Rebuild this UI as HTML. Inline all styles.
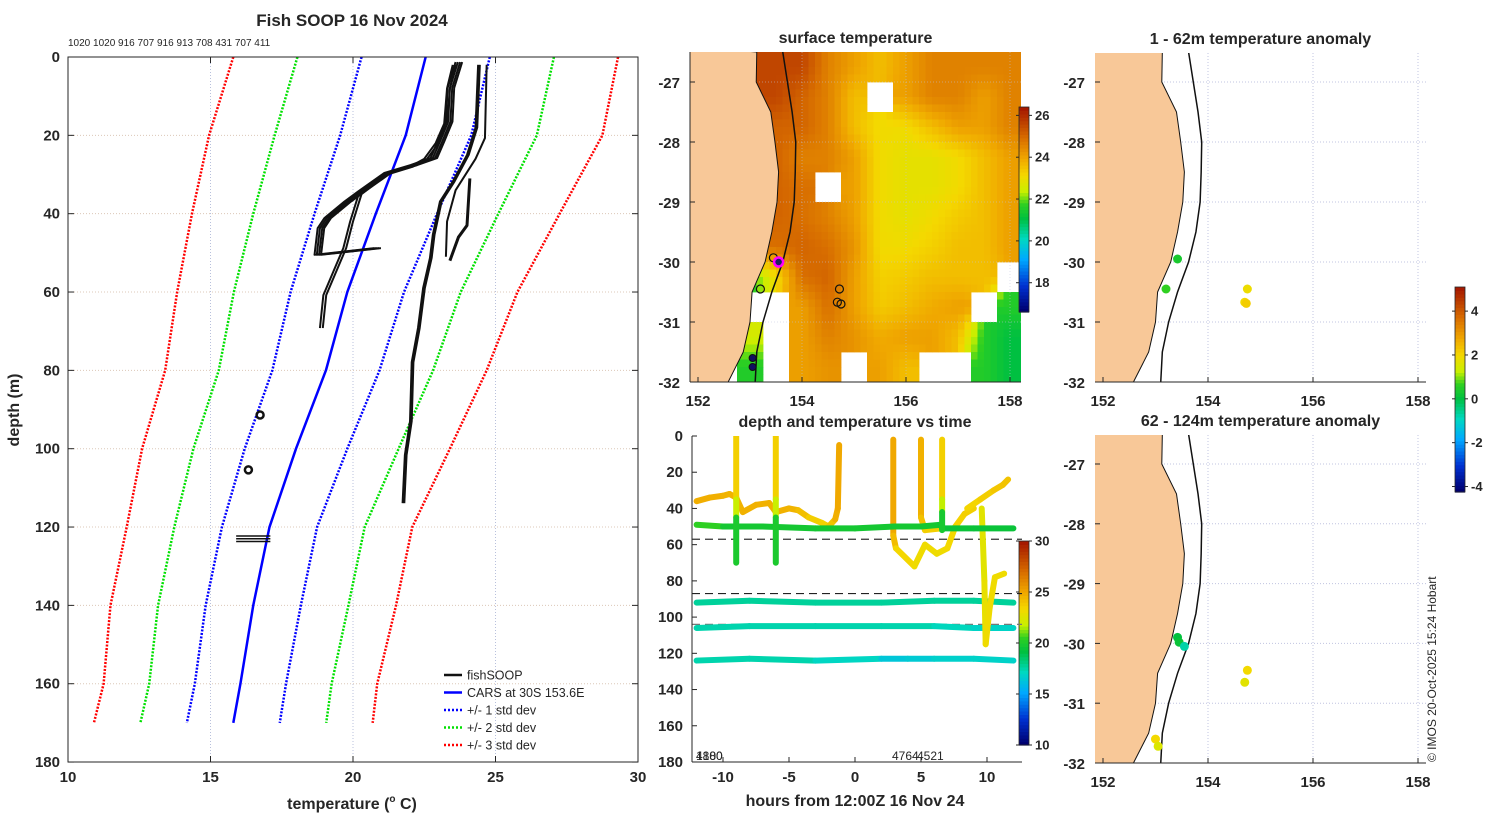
<!DOCTYPE html>
<html><head><meta charset="utf-8"><style>
body{margin:0;background:#fff;}
svg text{font-family:"Liberation Sans",sans-serif;fill:#262626;}
.b{font-weight:bold;}
</style></head><body>
<svg id="s" width="1500" height="820" viewBox="0 0 1500 820" xmlns="http://www.w3.org/2000/svg">
<rect width="1500" height="820" fill="#fff"/>
</svg>
<script>
// ---- Profile chart data ----
const depths=[0,20,40,60,80,100,120,140,160,170];
const carsMean=[22.55,21.85,20.8,19.8,19.05,18.0,17.07,16.5,16.05,15.8];
const carsStd=[2.25,2.3,2.15,1.99,1.88,1.8,1.67,1.67,1.6,1.63];
const topLabels="1020 1020 916 707 916 913 708 431 707 411";
const profBT=[23.68,23.4,23.34,23.05,22.8,22.1,21.18,20.25,19.78,19.08,18.84,18.73,20.83];
const profBD=[1.3,7.9,16.5,21.6,25.8,27.6,29.6,34.4,36.9,41.1,43.7,50.5,48.8];
const profCT=[23.5,23.3,23.2,22.9,22.5,22.0,21.1,20.2,19.9,19.66,19.31,18.96,18.84];
const profCD=[2,8,17,22,26,28,30,35,42,48.8,54.8,60.8,69.2];
const profAT=[24.39,24.3,24.0,23.5,23.05,22.8,22.7,22.46,22.28,22.06,22.0,21.82,21.74];
const profAD=[2,18,25,31.8,36.9,45.4,51.3,59,69.2,77.9,93,101.6,113.9];
const profDT=[24.69,24.63,24.3,23.6,23.3,23.26];
const profDD=[2,20.7,26,34,42,51];
const profET=[24.1,24.0,23.7,23.4];
const profED=[31,43,46,52];
const blobT=[16.74,16.33,15.9,17.1];
const blobD=[91.4,105.4,123,123];

// ---- SST grid (0.5 deg cells) ----
const sstLons=[152,152.5,153,153.5,154,154.5,155,155.5,156,156.5,157,157.5,158];
const sstLats=[-26.75,-27.25,-27.75,-28.25,-28.75,-29.25,-29.75,-30.25,-30.75,-31.25,-31.75];
const N=null;
const sstVals=[
[N,N,25.5,25.5,25.5,24.5,24.0,23.5,24.0,24.5,24.5,24.5,24.5],
[N,N,25.5,25.5,25.0,24.5,23.5,N,24.0,24.5,24.5,24.0,24.5],
[N,N,25.0,25.0,25.0,24.5,23.5,23.0,23.0,23.5,24.0,24.0,24.5],
[N,N,25.0,25.0,24.5,24.5,24.0,23.0,22.8,22.8,23.0,23.5,24.0],
[N,N,25.0,25.0,24.8,N,24.0,23.0,22.8,22.8,23.0,23.5,24.0],
[N,N,25.0,25.0,24.8,24.5,24.0,23.0,22.8,23.0,23.3,23.5,24.0],
[N,N,24.8,24.8,25.0,24.8,24.2,23.0,23.0,23.2,23.5,23.5,24.0],
[N,N,21.5,23.0,24.8,25.0,24.0,23.2,23.3,23.5,23.5,23.5,N],
[N,N,N,N,24.0,24.8,24.0,23.3,23.5,23.8,24.0,N,21.5],
[N,N,22.5,N,24.0,24.5,24.2,23.8,24.0,24.0,23.5,21.5,21.0],
[N,N,21.5,N,24.0,24.2,N,24.0,23.5,N,N,21.5,21.0]];
const coastLat=[-26.5,-27,-27.5,-28,-28.5,-29,-29.5,-30,-30.5,-31,-31.5,-32];
const coastLon=[153.13,153.12,153.4,153.48,153.55,153.52,153.42,153.29,153.04,153.0,152.87,152.58];
const isoLon=[153.63,153.72,153.81,153.88,153.87,153.85,153.77,153.63,153.42,153.25,153.13,153.1];
const castLon=[153.45,153.2,154.72,154.68,154.75];
const castLat=[-29.93,-30.45,-30.45,-30.67,-30.7];
const anom1Lon=[153.42,153.2,154.75,154.7,154.73];
const anom1Lat=[-29.95,-30.45,-30.45,-30.67,-30.69];
const anom1Val=[0.3,0.6,1.8,1.9,2.1];
const anom2Lon=[153.42,153.45,153.55,154.75,154.7,153.0,153.05];
const anom2Lat=[-29.9,-29.98,-30.05,-30.45,-30.65,-31.6,-31.72];
const anom2Val=[0.0,0.1,-0.8,1.9,1.6,1.9,1.5];

// ---- time/depth tracks ----
const trkA_t=[-12,-10,-7,-3,0,3,5,6.5,6.6,9,12]; const trkA_d=[49,50,50,51,51,50,50,49,51,51,51]; const trkA_T=[21,19.6,19.6,19.6,19.6,19.6,19.6,19.6,19.3,19.3,19.3];
const trkB_t=[-12,-8,-3,2,6,9,12]; const trkB_d=[92,91,92,92,91,91,92]; const trkB_T=[17.6,17.6,17.6,17.6,17.6,17.6,17.6];
const trkC_t=[-12,-8,-3,2,6,9,12]; const trkC_d=[106,105,105,105,105,106,106]; const trkC_T=[17.3,17.3,17.3,17.3,17.3,16.8,16.8];
const trkD_t=[-12,-8,-3,2,4,6,9,12]; const trkD_d=[124,123,124,123,123,123,123,124]; const trkD_T=[17.3,17.3,17.3,16.5,16,16.8,16.5,17];
const trkE_t=[-12,-11,-10,-9.5,-9,-8.5,-7.5,-6.5,-6,-5,-4.3,-3.5,-2.5,-2,-1.5,-1.3,-1.2]; const trkE_d=[36,34,33,32,34,42,38,37,42,40,41,45,48,50,46,40,5]; const trkE_T=[24.6,24.6,24.5,24.4,24.4,24.5,24.5,24.5,24.5,24.5,24.3,23.8,23.3,23.5,24.3,24.8,24.8];
const trkF_t=[-9,-9,-9,-9]; const trkF_d=[0,35,45,70]; const trkF_T=[23.6,23.3,20,19.6];
const trkG_t=[-6,-6,-6,-6]; const trkG_d=[0,35,45,70]; const trkG_T=[23.6,23.3,20,19.6];
const trkH_t=[2.9,2.9,3.1,4.5,5.3,6.2,7.0,7.6,8.3,9.0]; const trkH_d=[2,55,62,72,60,65,62,50,43,40]; const trkH_T=[24.8,24.8,23.5,23,23,23,23,23.4,23.4,23.6];
const trkI_t=[5,5,5.3,6.5]; const trkI_d=[2,45,52,51]; const trkI_T=[24.6,24.4,23.5,23.5];
const trkJ_t=[6.6,6.6,6.6,6.6]; const trkJ_d=[2,35,42,52]; const trkJ_T=[23.6,23.3,19.8,19.6];
const trkK_t=[8.5,9.5,10.5,11.2,11.6]; const trkK_d=[40,35,30,27,24]; const trkK_T=[23.3,23.3,23.8,23.8,24];
const trkL_t=[9.6,9.8,9.9,10.2,10.6,11.3]; const trkL_d=[40,80,115,95,78,76]; const trkL_T=[22.5,22.5,23,23,23,23];

const S=document.getElementById('s');
const NS='http://www.w3.org/2000/svg';
function mk(tag,at,parent){const e=document.createElementNS(NS,tag);for(const k in at)e.setAttribute(k,at[k]);(parent||S).appendChild(e);return e;}
function tx(x,y,str,size,anchor,bold,parent){const e=mk('text',{x:x,y:y,'font-size':size,'text-anchor':anchor||'middle'},parent);if(bold)e.setAttribute('class','b');e.textContent=str;return e;}

// colormap
const stops=[[0,[0,0,112]],[0.12,[0,48,208]],[0.25,[0,168,255]],[0.35,[0,216,192]],[0.45,[0,192,64]],[0.52,[48,208,32]],[0.58,[200,240,0]],[0.66,[244,216,0]],[0.74,[240,168,0]],[0.84,[216,110,0]],[1,[160,16,0]]];
function cmap(f){f=Math.max(0,Math.min(1,f));for(let i=1;i<stops.length;i++){if(f<=stops[i][0]){const a=stops[i-1],b=stops[i];const u=(f-a[0])/(b[0]-a[0]);const c=a[1].map((v,j)=>Math.round(v+(b[1][j]-v)*u));return 'rgb('+c.join(',')+')';}}return 'rgb(160,16,0)';}

// ================= PROFILE PLOT =================
const mx=T=>68+(T-10)*28.5, my=d=>57+d*3.917;
const gP=mk('g',{});


[15,20,25].forEach(T=>{const l=mk('line',{x1:mx(T),x2:mx(T),y1:57,y2:762,stroke:'#b8c0dc','stroke-width':1,'stroke-dasharray':'1,2'},gP);});
[20,40,60,80,100,120,140,160].forEach(d=>{const l=mk('line',{x1:68,x2:638,y1:my(d),y2:my(d),stroke:'#dcc8b8','stroke-width':1,'stroke-dasharray':'1,2'},gP);});
function pline(Ts,Ds,color,w,dash,name){const p=mk('polyline',{points:Ts.map((T,i)=>mx(T)+','+my(Ds[i])).join(' '),fill:'none',stroke:color,'stroke-width':w,'stroke-linejoin':'round'},gP);if(dash)p.setAttribute('stroke-dasharray',dash);return p;}
[[3,'#ff0000'],[2,'#00e000'],[1,'#0000ff']].forEach(([k,c])=>{
  pline(carsMean.map((m,i)=>m-k*carsStd[i]),depths,c,2.5,'2,1.5','std-'+k+'-lower');
  pline(carsMean.map((m,i)=>m+k*carsStd[i]),depths,c,2.5,'2,1.5','std-'+k+'-upper');
});
pline(carsMean,depths,'#0000ff',2.5,null,'cars-mean-profile');
[0,0.08,-0.08,0.15].forEach(o=>{pline(profBT.map(v=>v+o),profBD,'#111',2,null,'fishsoop-profile');});
[0,0.1].forEach(o=>{pline(profCT.map(v=>v+o),profCD,'#111',2,null,'fishsoop-profile');});
[0,0.06].forEach(o=>{pline(profAT.map(v=>v+o),profAD,'#111',2,null,'fishsoop-profile');});
pline(profDT,profDD,'#111',2,null,'fishsoop-profile');
pline(profET,profED,'#111',3,null,'fishsoop-profile');
blobT.slice(0,2).forEach((T,i)=>{const c=mk('circle',{cx:mx(T),cy:my(blobD[i]),r:3.5,fill:'none',stroke:'#111','stroke-width':2.5},gP);});
[122.3,123,123.7].forEach(d=>pline([blobT[2],blobT[3]],[d,d],'#111',1.5,null,'fishsoop-bottom-trace'));
const bx=mk('rect',{x:68,y:57,width:570,height:705,fill:'none',stroke:'#262626','stroke-width':1},gP);
const xt=[10,15,20,25,30];xt.forEach(T=>{mk('line',{x1:mx(T),x2:mx(T),y1:762,y2:756,stroke:'#262626'},gP);mk('line',{x1:mx(T),x2:mx(T),y1:57,y2:63,stroke:'#262626'},gP);const t=tx(mx(T),782,String(T),15,'middle',true,gP);});
const yt=[0,20,40,60,80,100,120,140,160,180];yt.forEach(d=>{mk('line',{x1:68,x2:74,y1:my(d),y2:my(d),stroke:'#262626'},gP);mk('line',{x1:638,x2:632,y1:my(d),y2:my(d),stroke:'#262626'},gP);const t=tx(60,my(d)+5,String(d),15,'end',true,gP);});
let t0=tx(352,26,'Fish SOOP 16 Nov 2024',17,'middle',true,gP);
t0=tx(68,46,topLabels,10,'start',false,gP);
t0=mk('text',{x:352,y:809,'font-size':16,'text-anchor':'middle',class:'b'},gP);t0.innerHTML='temperature (<tspan font-size="10" dy="-7">o</tspan><tspan dy="7"> C)</tspan>';
t0=tx(0,0,'depth (m)',16,'middle',true,gP);t0.setAttribute('transform','translate(19,410) rotate(-90)');
const lg=mk('g',{},gP);
[['fishSOOP','#111',null],['CARS at 30S 153.6E','#0000ff',null],['+/- 1 std dev','#0000ff','2,2'],['+/- 2 std dev','#00e000','2,2'],['+/- 3 std dev','#ff0000','2,2']].forEach((e,i)=>{
  const y=675+i*17.5;const g=mk('g',{},lg);
  const l=mk('line',{x1:444,x2:462,y1:y,y2:y,stroke:e[1],'stroke-width':2.5},g);if(e[2])l.setAttribute('stroke-dasharray',e[2]);
  tx(467,y+4.5,e[0],12.5,'start',false,g);
});

// SST bilinear sampling from the grid
function sstAt(lon,lat){
  const fc=(lon-152)/0.5, fr=(-26.75-lat)/0.5;
  const rc=Math.round(fc), rr=Math.round(fr);
  if(rr<0||rr>10||rc<0||rc>12||sstVals[rr][rc]===null)return null;
  const c0=Math.floor(fc),r0=Math.floor(fr),u=fc-c0,v=fr-r0;
  let s=0,w=0;
  [[r0,c0,(1-u)*(1-v)],[r0,c0+1,u*(1-v)],[r0+1,c0,(1-u)*v],[r0+1,c0+1,u*v]].forEach(([r,c,ww])=>{
    const rr2=Math.max(0,Math.min(10,r)),cc2=Math.max(0,Math.min(12,c));const val=sstVals[rr2][cc2];if(val!==null){s+=val*ww;w+=ww;}});
  return w>0?s/w:null;
}

// ================= MAPS =================
function makeMap(name,x0,x1,y0,y1,lon0,lonPx,lat0y,latPx,opts){
  const g=mk('g',{});
  const X=l=>lon0+(l-152)*lonPx, Y=la=>lat0y+(-27-la)*latPx;
  const cp='clip-'+name;const cdef=mk('clipPath',{id:cp},g);mk('rect',{x:x0,y:y0,width:x1-x0,height:y1-y0},cdef);
  const inner=mk('g',{'clip-path':'url(#'+cp+')'},g);
  if(opts.sst){
    const st=0.125;
    for(let la=-26.5;la>-32.01;la-=st){for(let lo=151.75;lo<158.25;lo+=st){
      const v=sstAt(lo+st/2,la-st/2);if(v===null)continue;
      const cell=mk('rect',{x:X(lo),y:Y(la),width:st*lonPx+0.4,height:st*latPx+0.4,fill:cmap((v-16.6)/9.8)},inner);
      
      
    }}
  }
  [152,154,156,158].forEach(l=>mk('line',{x1:X(l),x2:X(l),y1:y0,y2:y1,stroke:'#c0c4e0','stroke-dasharray':'1,2','stroke-width':1,opacity:opts.sst?0.5:1},inner));
  [-27,-28,-29,-30,-31].forEach(la=>mk('line',{x1:x0,x2:x1,y1:Y(la),y2:Y(la),stroke:'#c0c4e0','stroke-dasharray':'1,2','stroke-width':1,opacity:opts.sst?0.5:1},inner));
  const land=mk('polygon',{points:[x0-5+','+(Y(-26.4))].concat(coastLon.map((l,i)=>X(l)+','+Y(coastLat[i]))).concat([X(152.4)+','+(y1+5),(x0-5)+','+(y1+5)]).join(' '),fill:'#f8c898',stroke:'#111','stroke-width':1},inner);
  
  const iso=mk('polyline',{points:isoLon.map((l,i)=>X(l)+','+Y(coastLat[i])).join(' '),fill:'none',stroke:'#111','stroke-width':1.5},inner);
  
  if(opts.sst){castLon.forEach((l,i)=>{const c=mk('circle',{cx:X(l),cy:Y(castLat[i]),r:4,fill:'none',stroke:'#111','stroke-width':1.2},inner);});
    let c=mk('circle',{cx:X(153.55),cy:Y(-30.0),r:4.5,fill:'#202060',stroke:'#ff00ff','stroke-width':2.5},inner);
    [-31.6,-31.75].forEach(la=>{c=mk('circle',{cx:X(153.05),cy:Y(la),r:3.5,fill:'#101060',stroke:'#111','stroke-width':1},inner);});}
  if(opts.lon){opts.lon.forEach((l,i)=>{const c=mk('circle',{cx:X(l),cy:Y(opts.lat[i]),r:4.5,fill:cmap((opts.val[i]+4.25)/9.35)},inner);});}
  mk('line',{x1:x0,x2:x1,y1:y1,y2:y1,stroke:'#262626'},g);
  if(opts.sst)mk('line',{x1:x0,x2:x0,y1:y0,y2:y1,stroke:'#262626'},g);
  [152,154,156,158].forEach(l=>{mk('line',{x1:X(l),x2:X(l),y1:y1,y2:y1-5,stroke:'#262626'},g);const t=tx(X(l),y1+24,String(l),15,'middle',true,g);});
  [-27,-28,-29,-30,-31,-32].forEach(la=>{mk('line',{x1:x0,x2:x0+5,y1:Y(la),y2:Y(la),stroke:'#262626'},g);const t=tx(x0-10,Y(la)+6,String(la),15,'end',true,g);});
  const tt=tx((x0+x1)/2,y0-9,opts.title,16,'middle',true,g);
}
makeMap('surface-temperature-map',690,1021,52,382,698,52,82,60,{sst:true,title:'surface temperature'});
makeMap('anomaly-map-1-62m',1095,1426,53,382,1103,52.5,82,60,{lon:anom1Lon,lat:anom1Lat,val:anom1Val,title:'1 - 62m temperature anomaly'});
makeMap('anomaly-map-62-124m',1095,1426,435,763,1103,52.5,464,59.8,{lon:anom2Lon,lat:anom2Lat,val:anom2Val,title:'62 - 124m temperature anomaly'});

function colorbar(name,x,y0,y1,vmin,vmax,ticks){
  const g=mk('g',{});
  const n=60;for(let i=0;i<n;i++){const f=i/n;mk('rect',{x:x,y:y1-(i+1)*(y1-y0)/n,width:10,height:(y1-y0)/n+0.6,fill:cmap(f)},g);}
  mk('rect',{x:x,y:y0,width:10,height:y1-y0,fill:'none',stroke:'#262626','stroke-width':0.8},g);
  ticks.forEach(v=>{const y=y1-(v-vmin)/(vmax-vmin)*(y1-y0);mk('line',{x1:x+10,x2:x+13,y1:y,y2:y,stroke:'#262626'},g);mk('line',{x1:x,x2:x-3,y1:y,y2:y,stroke:'#262626'},g);tx(x+16,y+4.5,String(v),13,'start',true,g);});
}
colorbar('sst-colorbar',1019,107,312,16.6,26.4,[18,20,22,24,26]);
colorbar('time-colorbar',1019,541,745,10,30,[10,15,20,25,30]);
colorbar('anomaly-colorbar',1455,287,492,-4.25,5.1,[-4,-2,0,2,4]);

// ================= TIME PLOT =================
const tx0=855, tpx=13.2, ty0=436, typ=1.811;
const TX=h=>tx0+h*tpx, TY=d=>ty0+d*typ;
const gT=mk('g',{});
const cpT=mk('clipPath',{id:'cpT'},gT);mk('rect',{x:692,y:436,width:330,height:326},cpT);
const inT=mk('g',{'clip-path':'url(#cpT)'},gT);
[[57,'#333'],[87,'#222'],[104,'#777']].forEach(([d,c])=>{const l=mk('line',{x1:692,x2:1022,y1:TY(d),y2:TY(d),stroke:c,'stroke-width':1.2,'stroke-dasharray':'8,5'},inT);});
function track(ts,ds,Ts){for(let i=1;i<ts.length;i++){const seg=mk('line',{x1:TX(ts[i-1]),y1:TY(ds[i-1]),x2:TX(ts[i]),y2:TY(ds[i]),stroke:cmap(((Ts[i-1]+Ts[i])/2-10)/20),'stroke-width':6,'stroke-linecap':'round'},inT);}}
track(trkB_t,trkB_d,trkB_T);track(trkC_t,trkC_d,trkC_T);track(trkD_t,trkD_d,trkD_T);
track(trkE_t,trkE_d,trkE_T);track(trkH_t,trkH_d,trkH_T);track(trkI_t,trkI_d,trkI_T);track(trkK_t,trkK_d,trkK_T);track(trkL_t,trkL_d,trkL_T);
track(trkA_t,trkA_d,trkA_T);track(trkF_t,trkF_d,trkF_T);track(trkG_t,trkG_d,trkG_T);track(trkJ_t,trkJ_d,trkJ_T);
mk('line',{x1:692,x2:692,y1:436,y2:762,stroke:'#262626'},gT);mk('line',{x1:692,x2:1022,y1:762,y2:762,stroke:'#262626'},gT);
[-10,-5,0,5,10].forEach(h=>{mk('line',{x1:TX(h),x2:TX(h),y1:762,y2:757,stroke:'#262626'},gT);const t=tx(TX(h),782,String(h),15,'middle',true,gT);});
[0,20,40,60,80,100,120,140,160,180].forEach(d=>{mk('line',{x1:692,x2:697,y1:TY(d),y2:TY(d),stroke:'#262626'},gT);const t=tx(683,TY(d)+5,String(d),15,'end',true,gT);});
t0=tx(855,806,'hours from 12:00Z 16 Nov 24',16,'middle',true,gT);
t0=tx(855,427,'depth and temperature vs time',16,'middle',true);
[['1800',696],['4180',696],['4764',892],['4521',917]].forEach(([s,x])=>{const t=tx(x,760,s,12,'start',false,gT);});

t0=tx(0,0,'© IMOS 20-Oct-2025 15:24 Hobart',12,'start',false);t0.setAttribute('transform','translate(1436,762) rotate(-90)');
</script>
</body></html>
